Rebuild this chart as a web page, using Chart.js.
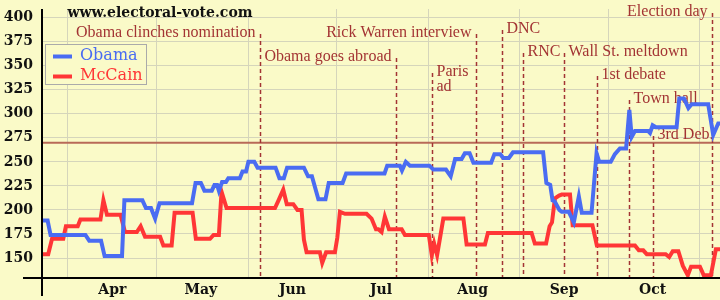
<!DOCTYPE html>
<html lang="en">
<head>
    <meta charset="UTF-8">
    <title>Electoral votes 2008</title>
    <script src="https://cdn.jsdelivr.net/npm/chart.js"></script>
    <style>
        body {
            margin: 0;
            background-color: #fafac8;
        }
        canvas { display: block; }
    </style>
</head>
<body>
    <canvas id="evChart" width="720" height="300"></canvas>

    <script>
        // x = days since Apr 1, 2008
        const obamaDays = [-8.8, -6.9, -5.9, 5.9, 7.2, 11.2, 12.4, 18.3, 19.1, 25.2, 26.4, 28.1, 29.5, 31.0, 42.0, 43.2, 45.0, 46.2, 48.7, 49.6, 50.5, 51.1, 52.2, 53.5, 54.3, 58.2, 59.1, 60.3, 61.1, 63.1, 64.2, 70.3, 71.6, 73.1, 74.2, 79.9, 81.3, 82.6, 84.8, 87.2, 88.3, 93.0, 94.2, 107.2, 108.1, 112.4, 113.1, 114.4, 115.8, 122.4, 123.7, 128.0, 129.6, 131.1, 133.3, 134.4, 136.0, 137.3, 143.3, 144.4, 146.4, 147.4, 149.3, 150.7, 160.9, 162.0, 163.3, 164.1, 164.8, 166.4, 167.2, 169.6, 171.3, 173.0, 174.0, 177.3, 179.0, 179.9, 183.8, 185.2, 186.9, 189.0, 190.1, 190.9, 192.0, 196.5, 197.1, 198.0, 199.1, 206.1, 207.0, 208.6, 210.1, 211.2, 216.8, 218.5, 220.2, 220.8];
        const obamaVotes = [189, 189, 174, 174, 168, 168, 152, 152, 210, 210, 202, 202, 191, 207, 207, 228, 228, 220, 220, 226, 226, 220, 229, 229, 233, 233, 240, 240, 250, 250, 244, 244, 233, 233, 244, 244, 235, 235, 211, 211, 228, 228, 238, 238, 246, 246, 241, 250, 246, 246, 242, 242, 235, 253, 253, 259, 259, 249, 249, 258, 258, 254, 254, 260, 260, 228, 226, 210, 209, 200, 198, 198, 187, 214, 197, 197, 259, 250, 250, 258, 264, 264, 304, 276, 282, 282, 280, 288, 286, 286, 316, 316, 306, 310, 310, 278, 290, 290];

        const mccainDays = [-8.8, -6.7, -5.4, -1.6, -0.7, 3.3, 4.2, 11.0, 12.0, 13.2, 17.8, 19.3, 23.3, 24.6, 26.1, 31.2, 32.3, 35.1, 36.1, 42.2, 43.3, 48.1, 49.3, 51.1, 52.0, 53.7, 70.1, 71.3, 72.9, 74.1, 76.3, 77.7, 79.1, 79.9, 80.8, 85.3, 86.1, 87.4, 90.4, 91.2, 92.1, 93.8, 101.1, 102.8, 104.3, 105.1, 106.2, 107.3, 108.7, 113.0, 114.1, 122.2, 123.2, 124.0, 125.0, 127.1, 133.9, 135.0, 141.2, 142.2, 157.0, 158.1, 161.9, 163.1, 163.9, 164.9, 166.3, 167.2, 170.0, 170.9, 177.6, 179.1, 192.0, 193.3, 194.8, 196.0, 202.4, 203.6, 204.8, 206.7, 208.2, 209.9, 211.0, 214.0, 215.3, 217.7, 219.4, 220.8];
        const mccainVotes = [154, 154, 170, 170, 183, 183, 190, 190, 210, 195, 195, 177, 177, 183, 172, 172, 163, 163, 197, 197, 170, 170, 174, 174, 219, 202, 202, 210, 221, 206, 206, 200, 200, 169, 156, 156, 145, 156, 156, 171, 198, 196, 196, 191, 180, 180, 177, 193, 180, 180, 174, 174, 153, 165, 153, 191, 191, 164, 164, 176, 176, 165, 165, 183, 187, 212, 215, 216, 216, 184, 184, 163, 163, 158, 158, 154, 154, 151, 157, 157, 142, 132, 141, 141, 132, 132, 159, 159];

        const monthLabels = ['Apr', 'May', 'Jun', 'Jul', 'Aug', 'Sep', 'Oct'];
        const monthMids = [15, 45, 76, 106, 137, 168, 198];
        const monthStarts = [0, 30, 61, 91, 122, 153, 183, 214];
        const yTicks = [150, 175, 200, 225, 250, 275, 300, 325, 350, 375, 400];
        const winLine = 270;

        const eventNames = ['Obama clinches nomination', 'Obama goes abroad', 'Paris\nad', 'Rick Warren interview', 'DNC', 'RNC', 'Wall St. meltdown', '1st debate', 'Town hall', '3rd Deb.', 'Election day'];
        const eventDays = [65.0, 111.1, 123.3, 138.2, 147.0, 154.1, 168.0, 179.1, 189.9, 198.1, 218.1];

        // label placement for each event: y of text, which side of the line
        const eventLayout = [
            { y: 33, side: 'left' }, { y: 57, side: 'left' }, { y: 72, side: 'right' },
            { y: 33, side: 'left' }, { y: 29, side: 'right' }, { y: 52, side: 'right' },
            { y: 52, side: 'right' }, { y: 75, side: 'right' }, { y: 99, side: 'right' },
            { y: 135, side: 'right' }, { y: 12, side: 'left' }
        ];

        const BLUE = '#4a6cf2';
        const RED = '#ff3636';
        const NOTE = '#a33434';
        const GRID = '#d5d5bb';
        const serifBold = { family: 'DejaVu Serif', weight: 'bold', size: 14 };

        const toPoints = (xs, ys) => xs.map((x, i) => ({ x: x, y: ys[i] }));

        // no label overhang padding, so the plot area sits where we want it
        const noPad = s => { s.paddingTop = 0; s.paddingBottom = 0; s.paddingLeft = 0; s.paddingRight = 0; };

        const annotations = {
            id: 'annotations',
            beforeDatasetsDraw(chart) {
                const { ctx, chartArea, scales } = chart;
                ctx.save();
                // 270 to win
                const wy = scales.y.getPixelForValue(winLine);
                ctx.strokeStyle = '#b86a58';
                ctx.lineWidth = 2;
                ctx.beginPath();
                ctx.moveTo(chartArea.left, wy);
                ctx.lineTo(chartArea.right, wy);
                ctx.stroke();

                ctx.font = '16px "Liberation Serif"';
                ctx.fillStyle = NOTE;
                ctx.textBaseline = 'middle';
                eventDays.forEach((d, i) => {
                    const x = Math.round(scales.x.getPixelForValue(d)) + 0.5;
                    const lay = eventLayout[i];
                    ctx.strokeStyle = NOTE;
                    ctx.lineWidth = 1.5;
                    ctx.setLineDash([4, 3]);
                    ctx.beginPath();
                    ctx.moveTo(x, lay.y + 1);
                    ctx.lineTo(x, chartArea.bottom);
                    ctx.stroke();
                    ctx.setLineDash([]);
                    const lines = eventNames[i].split('\n');
                    ctx.textAlign = lay.side === 'left' ? 'right' : 'left';
                    const tx = lay.side === 'left' ? x - 5 : x + 4;
                    lines.forEach((t, j) => ctx.fillText(t, tx, lay.y + j * 15));
                });
                ctx.restore();
            },
            afterDatasetsDraw(chart) {
                const { ctx, chartArea } = chart;
                ctx.save();
                // axes
                ctx.strokeStyle = '#000';
                ctx.lineWidth = 2;
                ctx.beginPath();
                ctx.moveTo(chartArea.left, chartArea.top);
                ctx.lineTo(chartArea.left, chartArea.bottom + 18);
                ctx.moveTo(23, chartArea.bottom);
                ctx.lineTo(chartArea.right, chartArea.bottom);
                ctx.stroke();

                // title
                ctx.font = 'bold 14px "DejaVu Serif"';
                ctx.fillStyle = '#111';
                ctx.textAlign = 'center';
                ctx.textBaseline = 'middle';
                ctx.fillText('www.electoral-vote.com', 160, 13);

                // legend
                ctx.fillStyle = '#fafac8';
                ctx.fillRect(45.5, 44.5, 101, 40);
                ctx.strokeStyle = '#aaa';
                ctx.lineWidth = 1;
                ctx.strokeRect(45.5, 44.5, 101, 40);
                ctx.font = '16px "DejaVu Serif"';
                ctx.textAlign = 'left';
                chart.data.datasets.forEach((ds, i) => {
                    const ly = 56 + i * 20;
                    ctx.strokeStyle = ds.borderColor;
                    ctx.lineWidth = 4;
                    ctx.beginPath();
                    ctx.moveTo(53, ly + 0.5);
                    ctx.lineTo(72, ly + 0.5);
                    ctx.stroke();
                    ctx.fillStyle = ds.borderColor;
                    ctx.fillText(ds.label, 80, ly);
                });
                ctx.restore();
            }
        };

        new Chart(document.getElementById('evChart'), {
            type: 'line',
            data: {
                datasets: [
                    { label: 'Obama', data: toPoints(obamaDays, obamaVotes), borderColor: BLUE, borderWidth: 4, pointRadius: 0, tension: 0 },
                    { label: 'McCain', data: toPoints(mccainDays, mccainVotes), borderColor: RED, borderWidth: 4, pointRadius: 0, tension: 0 }
                ]
            },
            options: {
                responsive: false,
                animation: false,
                layout: { padding: { top: 9, left: 0, right: 0, bottom: 0 } },
                plugins: { legend: { display: false }, tooltip: { enabled: false } },
                scales: {
                    x: {
                        type: 'linear', min: -8.8, max: 220.8, position: 'bottom',
                        grid: { display: false, drawTicks: false }, border: { display: false },
                        afterBuildTicks: s => { s.ticks = monthMids.map(v => ({ value: v })); },
                        afterFit: s => { s.height = 22; noPad(s); },
                        ticks: {
                            autoSkip: false, maxRotation: 0, padding: 4, color: '#111', font: serifBold,
                            callback: v => monthLabels[monthMids.indexOf(v)]
                        }
                    },
                    xg: {
                        type: 'linear', min: -8.8, max: 220.8, position: 'top',
                        grid: { color: GRID, drawTicks: false }, border: { display: false },
                        ticks: { display: false },
                        afterBuildTicks: s => { s.ticks = monthStarts.map(v => ({ value: v })); },
                        afterFit: s => { s.height = 0; noPad(s); }
                    },
                    y: {
                        min: 129.2, max: 409,
                        grid: { color: GRID, drawTicks: false }, border: { display: false },
                        afterBuildTicks: s => { s.ticks = yTicks.map(v => ({ value: v })); },
                        afterFit: s => { s.width = 42; noPad(s); },
                        ticks: { padding: 9, color: '#111', font: serifBold }
                    }
                }
            },
            plugins: [annotations]
        });
    </script>
</body>
</html>
